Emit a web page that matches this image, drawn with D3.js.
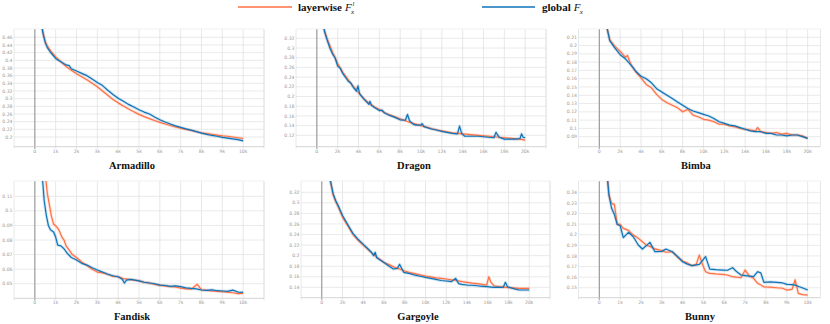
<!DOCTYPE html>
<html>
<head>
<meta charset="utf-8">
<script src="https://cdn.jsdelivr.net/npm/d3@7"></script>
<style>
body { margin: 0; background: #fff; }
.tick-label { font-family: "DejaVu Sans", sans-serif; font-size: 4.6px; fill: #999; }
.title { font-family: "Liberation Serif", serif; font-weight: bold; font-size: 10.5px; fill: #111; }
.legend { font-family: "Liberation Serif", serif; font-weight: bold; font-size: 11px; fill: #111; }
.math { font-family: "Liberation Serif", serif; font-style: italic; fill: #111; }
</style>
</head>
<body>
<div id="chart"></div>
<script>
const width = 830
const height = 324
const orange = "#ff7043"
const blue = "#0f73b8"

// x ticks
const ticks10k = [-1000, 0, 1000, 2000, 3000, 4000, 5000, 6000, 7000, 8000, 9000, 10000, 11000]
const ticks20k = [-2000, 0, 2000, 4000, 6000, 8000, 10000, 12000, 14000, 16000, 18000, 20000, 22000]

// y ticks
const armadilloTicks = [0.2, 0.22, 0.24, 0.26, 0.28, 0.3, 0.32, 0.34, 0.36, 0.38, 0.4, 0.42, 0.44, 0.46]
const dragonTicks = [0.12, 0.14, 0.16, 0.18, 0.2, 0.22, 0.24, 0.26, 0.28, 0.3, 0.32]
const bimbaTicks = [0.09, 0.1, 0.11, 0.12, 0.13, 0.14, 0.15, 0.16, 0.17, 0.18, 0.19, 0.2, 0.21]
const fandiskTicks = [0.05, 0.06, 0.07, 0.08, 0.09, 0.1, 0.11]
const gargoyleTicks = [0.14, 0.16, 0.18, 0.2, 0.22, 0.24, 0.26, 0.28, 0.3, 0.32]
const bunnyTicks = [0.15, 0.16, 0.17, 0.18, 0.19, 0.2, 0.21, 0.22, 0.23, 0.24]

// [step, value]
const armadilloLayerwise = [[300,0.50],[400,0.47],[500,0.449],[600,0.437],[750,0.425],[1000,0.409],[1250,0.396],[1500,0.384],[1750,0.374],[2000,0.365],[2250,0.357],[2500,0.349],[2750,0.340],[3000,0.331],[3250,0.320],[3500,0.309],[3750,0.298],[4000,0.289],[4250,0.281],[4500,0.273],[4750,0.266],[5000,0.259],[5250,0.253],[5500,0.248],[5750,0.243],[6000,0.238],[6250,0.234],[6500,0.230],[6750,0.226],[7000,0.223],[7250,0.220],[7500,0.217],[7750,0.214],[8000,0.211],[8250,0.209],[8500,0.207],[8750,0.205],[9000,0.203],[9250,0.202],[9500,0.200],[9750,0.198],[10000,0.196]]
const armadilloGlobal = [[300,0.50],[400,0.468],[500,0.446],[600,0.433],[750,0.421],[1000,0.405],[1250,0.396],[1500,0.388],[1650,0.386],[1750,0.378],[2000,0.372],[2250,0.366],[2500,0.360],[2750,0.351],[3000,0.342],[3250,0.334],[3500,0.322],[3750,0.311],[4000,0.301],[4250,0.293],[4500,0.285],[4750,0.278],[5000,0.271],[5250,0.265],[5500,0.260],[5750,0.252],[6000,0.245],[6250,0.239],[6500,0.234],[6750,0.229],[7000,0.225],[7250,0.221],[7500,0.218],[7750,0.214],[8000,0.210],[8250,0.207],[8500,0.204],[8750,0.202],[9000,0.199],[9250,0.197],[9500,0.195],[9750,0.193],[10000,0.190]]

const dragonLayerwise = [[500,0.36],[750,0.335],[1000,0.318],[1500,0.292],[2000,0.268],[2500,0.250],[3000,0.235],[3500,0.221],[4000,0.208],[4500,0.196],[5000,0.186],[5500,0.179],[6000,0.173],[6500,0.167],[7000,0.162],[7500,0.158],[8000,0.154],[8500,0.150],[9000,0.146],[9500,0.143],[10000,0.140],[10500,0.137],[11000,0.134],[11500,0.131],[12000,0.129],[12500,0.127],[13000,0.125],[13500,0.124],[14000,0.123],[14500,0.122],[15000,0.121],[15500,0.120],[16000,0.119],[16500,0.118],[17000,0.117],[17500,0.116],[18000,0.115],[18500,0.114],[19000,0.113],[19500,0.112],[20000,0.110]]
const dragonGlobal = [[500,0.36],[750,0.333],[1000,0.316],[1250,0.300],[1500,0.288],[1750,0.280],[2000,0.263],[2250,0.258],[2500,0.247],[3000,0.232],[3250,0.228],[3500,0.219],[3800,0.211],[3950,0.222],[4100,0.206],[4500,0.195],[5000,0.184],[5100,0.190],[5250,0.182],[5500,0.178],[6000,0.171],[6250,0.172],[6500,0.166],[7000,0.161],[7500,0.157],[8000,0.152],[8500,0.151],[8700,0.163],[8900,0.150],[9250,0.143],[9500,0.141],[10000,0.141],[10100,0.144],[10300,0.138],[11000,0.133],[11500,0.131],[12000,0.128],[12500,0.126],[13000,0.124],[13500,0.123],[13700,0.139],[13900,0.124],[14200,0.118],[15000,0.118],[15500,0.118],[16000,0.117],[16500,0.116],[17000,0.115],[17200,0.126],[17500,0.116],[18000,0.112],[18500,0.112],[19000,0.112],[19500,0.113],[19650,0.123],[19800,0.116],[20000,0.115]]

const bimbaLayerwise = [[500,0.235],[1000,0.207],[1500,0.199],[2000,0.193],[2500,0.186],[2700,0.188],[3000,0.178],[3500,0.168],[4000,0.161],[4500,0.153],[5000,0.149],[5500,0.141],[6000,0.135],[6500,0.131],[7000,0.128],[7500,0.125],[8000,0.120],[8500,0.123],[9000,0.116],[9500,0.114],[10000,0.111],[10500,0.110],[11000,0.108],[11500,0.105],[12000,0.105],[12500,0.103],[13000,0.102],[13500,0.100],[14000,0.099],[14500,0.098],[15000,0.097],[15200,0.101],[15500,0.096],[16000,0.095],[16500,0.094],[17000,0.095],[17500,0.093],[18000,0.094],[18500,0.092],[19000,0.092],[19500,0.091],[20000,0.088]]
const bimbaGlobal = [[500,0.235],[1000,0.206],[1500,0.197],[2000,0.189],[2500,0.184],[3000,0.177],[3500,0.169],[4000,0.163],[4500,0.160],[5000,0.155],[5500,0.148],[6000,0.144],[6500,0.140],[7000,0.136],[7500,0.132],[8000,0.128],[8500,0.124],[9000,0.121],[9500,0.119],[10000,0.117],[10500,0.115],[11000,0.112],[11500,0.108],[12000,0.106],[12500,0.104],[13000,0.103],[13500,0.101],[14000,0.099],[14500,0.097],[15000,0.096],[15500,0.096],[16000,0.094],[16500,0.094],[17000,0.092],[17500,0.092],[18000,0.091],[18500,0.092],[19000,0.092],[19500,0.090],[20000,0.088]]

const fandiskLayerwise = [[500,0.125],[600,0.112],[700,0.104],[800,0.096],[900,0.091],[1050,0.089],[1150,0.087],[1300,0.082],[1400,0.080],[1500,0.076],[1650,0.073],[1800,0.070],[2000,0.068],[2250,0.065],[2500,0.0625],[2750,0.060],[3000,0.058],[3250,0.0575],[3500,0.0565],[3750,0.055],[4000,0.0548],[4250,0.0535],[4500,0.053],[4750,0.0525],[5000,0.052],[5250,0.051],[5500,0.0505],[5750,0.0495],[6000,0.049],[6250,0.0485],[6500,0.048],[6750,0.0478],[7000,0.047],[7250,0.0465],[7500,0.0462],[7800,0.0496],[8000,0.0458],[8250,0.0455],[8500,0.045],[8750,0.0448],[9000,0.0445],[9250,0.0442],[9500,0.0438],[9750,0.0432],[10000,0.0434]]
const fandiskGlobal = [[350,0.125],[450,0.107],[550,0.097],[650,0.090],[750,0.087],[900,0.0855],[1000,0.082],[1100,0.0765],[1250,0.076],[1400,0.074],[1550,0.071],[1750,0.068],[2000,0.0663],[2250,0.064],[2500,0.0628],[2750,0.061],[3000,0.0594],[3250,0.058],[3500,0.0565],[3750,0.0555],[4000,0.0548],[4200,0.053],[4300,0.0505],[4400,0.0525],[4600,0.053],[5000,0.052],[5250,0.051],[5500,0.0505],[5750,0.050],[6000,0.049],[6250,0.0488],[6500,0.0482],[6750,0.0485],[7000,0.048],[7250,0.0472],[7500,0.0468],[7750,0.0465],[8000,0.0457],[8250,0.0455],[8500,0.0458],[8750,0.0452],[9000,0.045],[9250,0.0448],[9500,0.0456],[9750,0.0443],[10000,0.0441]]

const gargoyleLayerwise = [[800,0.345],[1100,0.315],[1350,0.302],[1600,0.292],[2000,0.273],[2500,0.257],[3000,0.2405],[3500,0.229],[4000,0.220],[4600,0.209],[5300,0.1975],[6000,0.187],[6500,0.183],[7000,0.178],[7500,0.1747],[8000,0.171],[8500,0.168],[9000,0.166],[9500,0.1635],[10000,0.1615],[10500,0.160],[11000,0.158],[11500,0.157],[12000,0.1558],[12500,0.154],[13000,0.153],[13500,0.151],[14000,0.1495],[14500,0.148],[15000,0.147],[15500,0.1455],[15900,0.1445],[16100,0.160],[16300,0.150],[16600,0.143],[17000,0.1415],[17500,0.1405],[18000,0.1393],[18500,0.139],[19000,0.1382],[19500,0.138],[20000,0.1382]]
const gargoyleGlobal = [[800,0.345],[1100,0.317],[1350,0.304],[1600,0.294],[2000,0.276],[2500,0.259],[3000,0.2423],[3500,0.231],[4000,0.2215],[4400,0.214],[4800,0.206],[5000,0.200],[5150,0.2064],[5300,0.196],[6000,0.187],[6500,0.180],[6900,0.1747],[7300,0.176],[7500,0.1836],[7700,0.176],[7900,0.1685],[8500,0.166],[9000,0.163],[9500,0.161],[10000,0.159],[10500,0.157],[11000,0.155],[11500,0.153],[12000,0.152],[12500,0.151],[12900,0.157],[13200,0.147],[13500,0.1455],[14000,0.1444],[14500,0.144],[15000,0.143],[15500,0.142],[16000,0.1412],[16500,0.140],[17000,0.1405],[17500,0.140],[17700,0.1495],[17900,0.141],[18500,0.1375],[19000,0.135],[19500,0.135],[20000,0.135]]

const bunnyLayerwise = [[360,0.26],[460,0.2375],[590,0.2296],[720,0.2287],[860,0.2098],[1000,0.2098],[1150,0.206],[1400,0.2041],[1630,0.1997],[1870,0.1966],[2070,0.1934],[2270,0.19],[2430,0.189],[2670,0.1866],[3000,0.185],[3200,0.1835],[3500,0.184],[3750,0.179],[4000,0.1752],[4200,0.1735],[4450,0.1708],[4650,0.172],[4800,0.1808],[4950,0.172],[5100,0.1651],[5300,0.1636],[5600,0.163],[5900,0.1626],[6150,0.162],[6400,0.1604],[6800,0.1594],[7000,0.1667],[7200,0.161],[7400,0.1589],[7600,0.1542],[7900,0.1509],[8200,0.1505],[8500,0.15],[8800,0.1495],[9000,0.1478],[9250,0.1485],[9400,0.1575],[9550,0.1447],[9750,0.1435],[10000,0.1431]]
const bunnyGlobal = [[360,0.26],[460,0.2375],[590,0.2249],[720,0.2192],[860,0.2098],[1000,0.2085],[1150,0.1972],[1400,0.2023],[1630,0.1981],[1870,0.1903],[2070,0.1865],[2270,0.19],[2430,0.1928],[2670,0.184],[3000,0.1843],[3200,0.1865],[3500,0.184],[3750,0.1795],[4000,0.1745],[4200,0.1725],[4450,0.1708],[4800,0.172],[5100,0.1793],[5300,0.1676],[5600,0.167],[5900,0.1667],[6150,0.1665],[6400,0.1689],[6600,0.165],[6800,0.162],[7000,0.1615],[7200,0.161],[7400,0.1604],[7600,0.1651],[7750,0.164],[7900,0.1551],[8200,0.1555],[8500,0.1551],[8800,0.1545],[9000,0.1532],[9250,0.153],[9400,0.1525],[9600,0.1509],[9800,0.1495],[10000,0.1478]]

// layout of the six panels
const panels = [
    {name: "Armadillo", left: 14, right: 264, xDomain: [-1000, 11000], top: 29, bottom: 146.7, yDomain: [0.1747, 0.4816], xTicks: ticks10k, yTicks: armadilloTicks, layer: armadilloLayerwise, glob: armadilloGlobal, titleX: 132, titleY: 168.5},
    {name: "Dragon", left: 296, right: 546, xDomain: [-2000, 22000], top: 29, bottom: 146.7, yDomain: [0.0965, 0.3392], xTicks: ticks20k, yTicks: dragonTicks, layer: dragonLayerwise, glob: dragonGlobal, titleX: 414, titleY: 168.5},
    {name: "Bimba", left: 578.5, right: 828.5, clipRight: 820.5, xDomain: [-2000, 22000], top: 29, bottom: 146.7, yDomain: [0.0779, 0.22], xTicks: ticks20k, yTicks: bimbaTicks, layer: bimbaLayerwise, glob: bimbaGlobal, titleX: 696, titleY: 168.5},
    {name: "Fandisk", left: 14, right: 264, xDomain: [-1000, 11000], top: 181, bottom: 298.3, yDomain: [0.04, 0.1205], xTicks: ticks10k, yTicks: fandiskTicks, layer: fandiskLayerwise, glob: fandiskGlobal, titleX: 132, titleY: 320},
    {name: "Gargoyle", left: 301, right: 550, xDomain: [-2000, 22000], top: 181, bottom: 297.7, yDomain: [0.1204, 0.3414], xTicks: ticks20k, yTicks: gargoyleTicks, layer: gargoyleLayerwise, glob: gargoyleGlobal, titleX: 418, titleY: 320},
    {name: "Bunny", left: 578.5, right: 828.5, clipRight: 820.5, xDomain: [-1000, 11000], top: 181, bottom: 297.7, yDomain: [0.1406, 0.2507], xTicks: ticks10k, yTicks: bunnyTicks, layer: bunnyLayerwise, glob: bunnyGlobal, titleX: 700, titleY: 320}
]

const svg = d3.select("div#chart").append("svg").attr("width", width).attr("height", height)
const defs = svg.append("defs")

const xFormat = d => d === 0 ? "0" : (d / 1000) + "k"
const yFormat = d => String(+d.toFixed(3))

panels.forEach((p, i) => {
    const right = p.clipRight || p.right
    const x = d3.scaleLinear().domain(p.xDomain).range([p.left, p.right])
    const y = d3.scaleLinear().domain(p.yDomain).range([p.bottom, p.top])
    const g = svg.append("g").attr("class", "panel")

    defs.append("clipPath").attr("id", "clip" + i)
        .append("rect").attr("x", p.left).attr("y", p.top)
        .attr("width", right - p.left).attr("height", p.bottom - p.top)

    // horizontal grid + labels
    g.selectAll("line.hgrid").data(p.yTicks).enter().append("line")
        .attr("class", "hgrid")
        .attr("x1", p.left).attr("x2", right)
        .attr("y1", d => y(d)).attr("y2", d => y(d))
        .attr("stroke", "#e4e4e4").attr("stroke-width", 0.8)
    g.selectAll("text.ylab").data(p.yTicks).enter().append("text")
        .attr("class", "tick-label ylab")
        .attr("x", p.left - 1.5).attr("y", d => y(d)).attr("dy", "0.35em")
        .attr("text-anchor", "end")
        .text(yFormat)

    // vertical grid
    const vt = p.xTicks.filter(d => x(d) <= right + 0.5)
    g.selectAll("line.vgrid").data(vt).enter().append("line")
        .attr("class", "vgrid")
        .attr("x1", d => x(d)).attr("x2", d => x(d))
        .attr("y1", p.top).attr("y2", p.bottom + 2)
        .attr("stroke", d => d === 0 ? "#9a9a9a" : "#e2e2e2")
        .attr("stroke-width", d => d === 0 ? 1.2 : 0.8)

    // frame top and right
    g.append("line").attr("x1", p.left).attr("x2", right).attr("y1", p.top).attr("y2", p.top)
        .attr("stroke", "#ececec").attr("stroke-width", 0.8)
    g.append("line").attr("x1", right).attr("x2", right).attr("y1", p.top).attr("y2", p.bottom)
        .attr("stroke", "#e2e2e2").attr("stroke-width", 0.8)

    // x axis
    g.append("line").attr("x1", p.left).attr("x2", right).attr("y1", p.bottom).attr("y2", p.bottom)
        .attr("stroke", "#c8c8c8").attr("stroke-width", 0.8)
    g.selectAll("text.xlab").data(p.xTicks.filter(d => d >= 0 && d <= p.xDomain[1] - (p.xDomain[1] - p.xDomain[0]) / 12 + 1)).enter().append("text")
        .attr("class", "tick-label xlab")
        .attr("x", d => x(d)).attr("y", p.bottom + 6)
        .attr("text-anchor", "middle")
        .text(xFormat)

    // curves
    const line = d3.line().x(d => x(d[0])).y(d => y(d[1]))
    const curves = g.append("g").attr("clip-path", `url(#clip${i})`)
    const series = [[p.layer, orange], [p.glob, blue]]
    series.forEach(s => {
        curves.append("path").datum(s[0]).attr("d", line)
            .attr("fill", "none").attr("stroke", s[1]).attr("stroke-opacity", 0.2)
            .attr("stroke-width", 3).attr("stroke-linejoin", "round")
    })
    series.forEach(s => {
        curves.append("path").datum(s[0]).attr("d", line)
            .attr("fill", "none").attr("stroke", s[1])
            .attr("stroke-width", 1.2).attr("stroke-linejoin", "round")
    })

    g.append("text").attr("class", "title")
        .attr("x", p.titleX).attr("y", p.titleY)
        .attr("text-anchor", "middle")
        .text(p.name)
})

// legend
const legend = svg.append("g").attr("class", "legend-group")
const legendItems = [
    {label: "layerwise", color: orange, x1: 238, x2: 292, tx: 298, sup: "l"},
    {label: "global", color: blue, x1: 482, x2: 535, tx: 542, sup: null}
]
legendItems.forEach(item => {
    legend.append("line").attr("x1", item.x1).attr("x2", item.x2).attr("y1", 7).attr("y2", 7)
        .attr("stroke", item.color).attr("stroke-width", 1.5)
    const t = legend.append("text").attr("class", "legend").attr("x", item.tx).attr("y", 11).text(item.label)
    const fx = item.tx + t.node().getComputedTextLength() + 3
    legend.append("text").attr("class", "math").attr("x", fx).attr("y", 11).attr("font-size", 11).text("F")
    legend.append("text").attr("class", "math").attr("x", fx + 6).attr("y", 13.5).attr("font-size", 7).text("x")
    if (item.sup) {
        legend.append("text").attr("class", "math").attr("x", fx + 7.5).attr("y", 6).attr("font-size", 6.5).text(item.sup)
    }
})
</script>
</body>
</html>
